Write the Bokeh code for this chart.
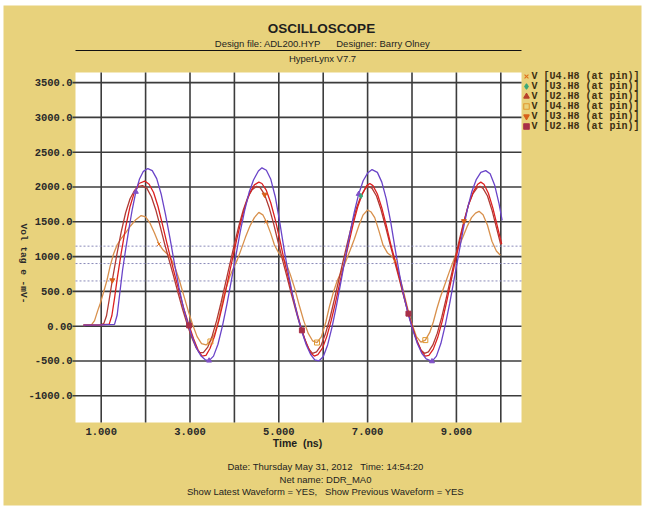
from bokeh.plotting import figure
from bokeh.models import Range1d, Label
from bokeh.core.properties import value
from bokeh.embed import file_html
from bokeh.resources import INLINE

# ---------------- data ----------------
t_orange = [0.60, 0.78, 0.85, 0.92, 0.98, 1.05, 1.13, 1.20, 1.28, 1.36, 1.45, 1.55, 1.66, 1.78, 1.90, 2.00, 2.10, 2.20, 2.30, 2.40,
            2.50, 2.58, 2.66, 2.76, 2.86, 2.96, 3.06, 3.16, 3.26, 3.36, 3.46, 3.56, 3.64, 3.72, 3.80, 3.90, 3.99, 4.07, 4.15, 4.25,
            4.35, 4.45, 4.55, 4.64, 4.72, 4.82, 4.90, 5.00, 5.10, 5.18, 5.26, 5.36, 5.46, 5.56, 5.66, 5.76, 5.86, 5.96, 6.06, 6.14,
            6.24, 6.32, 6.40, 6.50, 6.60, 6.70, 6.80, 6.90, 7.00, 7.08, 7.16, 7.25, 7.35, 7.45, 7.55, 7.62, 7.70, 7.80, 7.90, 8.00,
            8.10, 8.20, 8.30, 8.40, 8.48, 8.56, 8.64, 8.74, 8.84, 8.94, 9.04, 9.14, 9.24, 9.34, 9.43, 9.51, 9.60, 9.70, 9.80, 9.90, 9.99]
v_orange = [10, 20, 80, 220, 330, 480, 660, 860, 1040, 1170, 1260, 1340, 1440, 1530, 1590, 1570, 1480, 1340, 1180, 1090,
            1030, 960, 850, 660, 440, 220, 20, -150, -250, -270, -220, -100, 80, 320, 520, 720, 850, 960, 1100, 1280,
            1440, 1560, 1635, 1600, 1500, 1330, 1170, 1050, 970, 880, 740, 540, 300, 80, -100, -210, -235, -150, 60, 280,
            510, 660, 770, 920, 1080, 1250, 1440, 1600, 1670, 1640, 1560, 1380, 1160, 1050, 1000, 940, 760, 520, 260, 30,
            -150, -230, -200, -90, 60, 250, 420, 600, 780, 950, 1120, 1270, 1430, 1560, 1625, 1650, 1600, 1450, 1220, 1080, 1020]

t_maroon = [0.60, 1.00, 1.06, 1.12, 1.18, 1.25, 1.35, 1.45, 1.55, 1.65, 1.75, 1.85, 1.93, 2.03, 2.13, 2.23, 2.33, 2.43, 2.53, 2.63,
            2.73, 2.83, 2.93, 3.03, 3.13, 3.21, 3.30, 3.40, 3.50, 3.60, 3.70, 3.80, 3.90, 4.00, 4.10, 4.20, 4.30, 4.40, 4.50, 4.58,
            4.68, 4.78, 4.88, 4.98, 5.08, 5.18, 5.28, 5.38, 5.48, 5.58, 5.68, 5.76, 5.85, 5.95, 6.05, 6.15, 6.25, 6.35, 6.45, 6.55,
            6.65, 6.75, 6.85, 6.95, 7.02, 7.10, 7.20, 7.30, 7.40, 7.50, 7.60, 7.70, 7.80, 7.90, 8.00, 8.10, 8.20, 8.28, 8.37, 8.47,
            8.57, 8.67, 8.77, 8.87, 8.97, 9.07, 9.17, 9.27, 9.37, 9.47, 9.53, 9.60, 9.70, 9.80, 9.90, 10.00]
v_maroon = [15, 20, 40, 150, 380, 660, 1020, 1350, 1630, 1830, 1950, 2010, 2020, 1980, 1860, 1670, 1430, 1180, 950, 720,
            480, 250, 40, -150, -300, -380, -380, -300, -140, 80, 340, 620, 900, 1180, 1440, 1670, 1850, 1960, 2010, 1990,
            1890, 1710, 1480, 1220, 960, 720, 470, 230, 10, -180, -330, -390, -370, -280, -110, 110, 380, 660, 940, 1210,
            1470, 1700, 1870, 1980, 2010, 1980, 1870, 1680, 1440, 1190, 950, 710, 460, 220, 0, -190, -340, -390, -370, -270,
            -100, 130, 400, 690, 970, 1250, 1510, 1740, 1900, 1990, 2010, 1980, 1870, 1670, 1420, 1170]

t_red = [0.60, 1.00, 1.18, 1.24, 1.30, 1.36, 1.45, 1.55, 1.65, 1.75, 1.85, 1.98, 2.08, 2.18, 2.28, 2.38, 2.48, 2.58, 2.68, 2.78,
         2.88, 2.98, 3.08, 3.18, 3.27, 3.36, 3.45, 3.55, 3.65, 3.75, 3.85, 3.95, 4.05, 4.15, 4.25, 4.35, 4.45, 4.55, 4.62, 4.72,
         4.82, 4.92, 5.02, 5.12, 5.22, 5.32, 5.42, 5.52, 5.62, 5.72, 5.80, 5.88, 5.98, 6.08, 6.18, 6.28, 6.38, 6.48, 6.58, 6.68,
         6.78, 6.88, 6.98, 7.05, 7.12, 7.22, 7.32, 7.42, 7.52, 7.62, 7.72, 7.82, 7.92, 8.02, 8.12, 8.22, 8.30, 8.38, 8.48, 8.58,
         8.68, 8.78, 8.88, 8.98, 9.08, 9.18, 9.28, 9.38, 9.48, 9.55, 9.62, 9.72, 9.82, 9.92, 10.02]
v_red = [15, 20, 30, 150, 400, 680, 1050, 1420, 1720, 1930, 2050, 2085, 2040, 1920, 1720, 1460, 1190, 930, 680, 440,
         210, 10, -180, -340, -430, -420, -320, -150, 80, 350, 650, 950, 1240, 1510, 1740, 1920, 2030, 2070, 2050, 1950,
         1770, 1530, 1250, 950, 680, 420, 170, -60, -250, -390, -430, -410, -320, -150, 80, 350, 640, 920, 1200, 1480,
         1720, 1900, 2020, 2050, 2020, 1900, 1700, 1450, 1180, 940, 690, 430, 180, -40, -230, -370, -430, -420, -330, -160,
         70, 350, 650, 950, 1240, 1520, 1760, 1930, 2040, 2070, 2040, 1910, 1700, 1440, 1180]

t_purple = [0.60, 1.00, 1.30, 1.36, 1.42, 1.48, 1.55, 1.62, 1.70, 1.78, 1.86, 1.95, 2.05, 2.15, 2.25, 2.35, 2.45, 2.55, 2.65, 2.75,
            2.85, 2.95, 3.05, 3.15, 3.25, 3.35, 3.43, 3.53, 3.63, 3.73, 3.83, 3.93, 4.03, 4.13, 4.23, 4.33, 4.43, 4.54, 4.62, 4.72,
            4.82, 4.92, 5.02, 5.12, 5.22, 5.32, 5.42, 5.52, 5.62, 5.72, 5.81, 5.90, 6.00, 6.10, 6.20, 6.30, 6.40, 6.50, 6.60, 6.70,
            6.80, 6.90, 7.00, 7.10, 7.22, 7.32, 7.42, 7.52, 7.62, 7.72, 7.82, 7.92, 8.02, 8.12, 8.22, 8.32, 8.45, 8.55, 8.65, 8.75,
            8.85, 8.95, 9.05, 9.15, 9.25, 9.35, 9.45, 9.55, 9.66, 9.76, 9.86, 9.96, 10.03]
v_purple = [15, 20, 25, 160, 480, 800, 1100, 1380, 1680, 1930, 2110, 2225, 2265, 2235, 2120, 1900, 1600, 1260, 900, 560,
            270, 40, -160, -320, -430, -485, -495, -430, -260, 0, 310, 650, 1000, 1350, 1660, 1920, 2100, 2230, 2275, 2240,
            2110, 1860, 1500, 1100, 740, 420, 150, -80, -270, -410, -485, -500, -440, -270, -10, 300, 640, 990, 1330, 1640,
            1900, 2090, 2200, 2250, 2210, 2070, 1830, 1500, 1110, 740, 420, 160, -60, -250, -390, -470, -505, -430, -250, 20,
            330, 680, 1030, 1380, 1690, 1940, 2110, 2210, 2235, 2190, 2030, 1760, 1520]

thresholds = [1150, 900, 650]
y_ticks = [3500, 3000, 2500, 2000, 1500, 1000, 500, 0, -500, -1000]
y_tick_labels = ["3500.0", "3000.0", "2500.0", "2000.0", "1500.0", "1000.0", "500.0", "0.00", "-500.0", "-1000.0"]
x_ticks = [1, 3, 5, 7, 9]
x_tick_labels = ["1.000", "3.000", "5.000", "7.000", "9.000"]
x_grid = [1, 2, 3, 4, 5, 6, 7, 8, 9, 10]

legend_labels = ["V [U4.H8 (at pin)]", "V [U3.H8 (at pin)]", "V [U2.H8 (at pin)]",
                 "V [U4.H8 (at pin)]", "V [U3.H8 (at pin)]", "V [U2.H8 (at pin)]"]
legend_markers = ["x", "diamond", "triangle", "square", "inverted_triangle", "square"]
legend_filled = [False, True, True, False, True, True]
legend_colors = ["#e0701c", "#3aa878", "#b8402a", "#e09a30", "#d8601a", "#a83048"]

# ---------------- geometry (page pixels) ----------------
W, H = 645, 510
PL, PR, PT, PB = 75, 521, 72, 422          # white plot region
XMIN, XMAX = 0.4212, 10.466                # time range of the plot region
YMIN, YMAX = -1384, 3645                   # voltage range of the plot region
KX = (PR - PL) / (XMAX - XMIN)
KY = (PB - PT) / (YMAX - YMIN)


def X(px):
    return XMIN + (px - PL) / KX


def Y(py):
    return YMAX - (py - PT) / KY


GOLD = "#e8d27c"
GRID = "#3c3c3c"
INK = "#1e1e1e"
NB = "\u00a0"

p = figure(width=W, height=H, output_backend="svg", toolbar_location=None,
           x_range=Range1d(X(0), X(W)), y_range=Range1d(Y(H), Y(0)),
           min_border=0, background_fill_color="white", border_fill_color="white",
           outline_line_color=None)
p.axis.visible = False
p.grid.visible = False

# panel background and white plot region
p.quad(left=[X(3)], right=[X(641)], top=[Y(5)], bottom=[Y(505)], fill_color=GOLD, line_color=None)
p.quad(left=[XMIN], right=[XMAX], top=[YMAX], bottom=[YMIN], fill_color="white", line_color=None)

# grid lines (horizontal lines run a little past the left edge, like ticks)
p.segment(x0=x_grid, y0=[YMIN] * len(x_grid), x1=x_grid, y1=[YMAX] * len(x_grid),
          line_color=GRID, line_width=1.6)
p.segment(x0=[X(PL - 3)] * len(y_ticks), y0=y_ticks, x1=[XMAX] * len(y_ticks), y1=y_ticks,
          line_color=GRID, line_width=1.6)

# threshold lines
p.segment(x0=[XMIN] * len(thresholds), y0=thresholds, x1=[XMAX] * len(thresholds), y1=thresholds,
          line_color="#8a8ab8", line_dash="2 2", line_width=1)

# tick labels
p.text(x=x_ticks, y=[Y(431)] * len(x_ticks), text=x_tick_labels, text_align="center",
       text_baseline="middle", text_font=value("Liberation Mono"), text_font_style="bold",
       text_font_size="10.5px", text_color="#2a2a2a")
p.text(x=[X(PL - 3)] * len(y_ticks), y=y_ticks, text=y_tick_labels, text_align="right",
       text_baseline="middle", text_font=value("Liberation Mono"), text_font_style="bold",
       text_font_size="10.5px", text_color="#2a2a2a")

# waveforms
curves = [
    (t_orange, v_orange, "#d8904c"),
    (t_maroon, v_maroon, "#b03a34"),
    (t_red, v_red, "#dc2020"),
    (t_purple, v_purple, "#6a44c8"),
]
for t, v, c in curves:
    p.line(t, v, line_color=c, line_width=1.3)

# small waveform markers (taken from the data arrays)
mk = [
    (t_orange, v_orange, [18, 44, 75], "x", "#e0701c", False),
    (t_orange, v_orange, [30, 56, 82], "square", "#e09a30", False),
    (t_maroon, v_maroon, [5, 40, 86], "inverted_triangle", "#d8601a", True),
    (t_red, v_red, [21, 47, 72], "square", "#a83048", True),
    (t_purple, v_purple, [9, 26, 60, 76], "triangle", "#8050c8", True),
    (t_maroon, v_maroon, [62], "diamond", "#3aa878", True),
]
for t, v, idx, m, c, filled in mk:
    p.scatter([t[i] for i in idx], [v[i] for i in idx], marker=m, size=5,
              line_color=c, fill_color=c if filled else None, line_width=1)


def lab(text, cx, cy, size, font="Liberation Sans", style="normal", align="center",
        baseline="middle", color=INK, angle=0):
    p.add_layout(Label(x=X(cx), y=Y(cy), text=text, text_font=font,
                       text_font_size=f"{size}px", text_font_style=style,
                       text_align=align, text_baseline=baseline, text_color=color,
                       angle=angle, angle_units="deg"))


lab("OSCILLOSCOPE", 321, 28, 13.5, style="bold")
lab("Design file: ADL200.HYP" + NB * 6 + "Designer: Barry Olney", 322, 43, 9.5)
p.segment(x0=[XMIN], y0=[Y(50)], x1=[XMAX], y1=[Y(50)], line_color="#111111", line_width=1.2)
lab("HyperLynx V7.7", 322, 58, 9.5)

lab("Time" + NB * 2 + "(ns)", 297, 442, 10.5, style="bold")
lab("Date: Thursday May 31, 2012" + NB * 3 + "Time: 14:54:20", 325, 466, 9.5)
lab("Net name: DDR_MA0", 325, 478.5, 9.5)
lab("Show Latest Waveform = YES," + NB * 3 + "Show Previous Waveform = YES", 325, 490.5, 9.5)
lab("Vol tag e -mV-", 23, 263, 9.5, font="Liberation Mono", style="bold", angle=-90, color="#2a2a2a")

# legend at the right of the plot
ROW0, ROWH = 76, 10
for i, (m, txt, c, filled) in enumerate(zip(legend_markers, legend_labels, legend_colors, legend_filled)):
    yy = ROW0 + i * ROWH
    p.scatter([X(526)], [Y(yy)], marker=m, size=5.5, line_color=c,
              fill_color=c if filled else None, line_width=1.1)
    lab(txt, 531, yy, 10, font="Liberation Mono", style="bold", align="left", color="#3d2f12")

open("out.html", "w").write(file_html(p, INLINE))
